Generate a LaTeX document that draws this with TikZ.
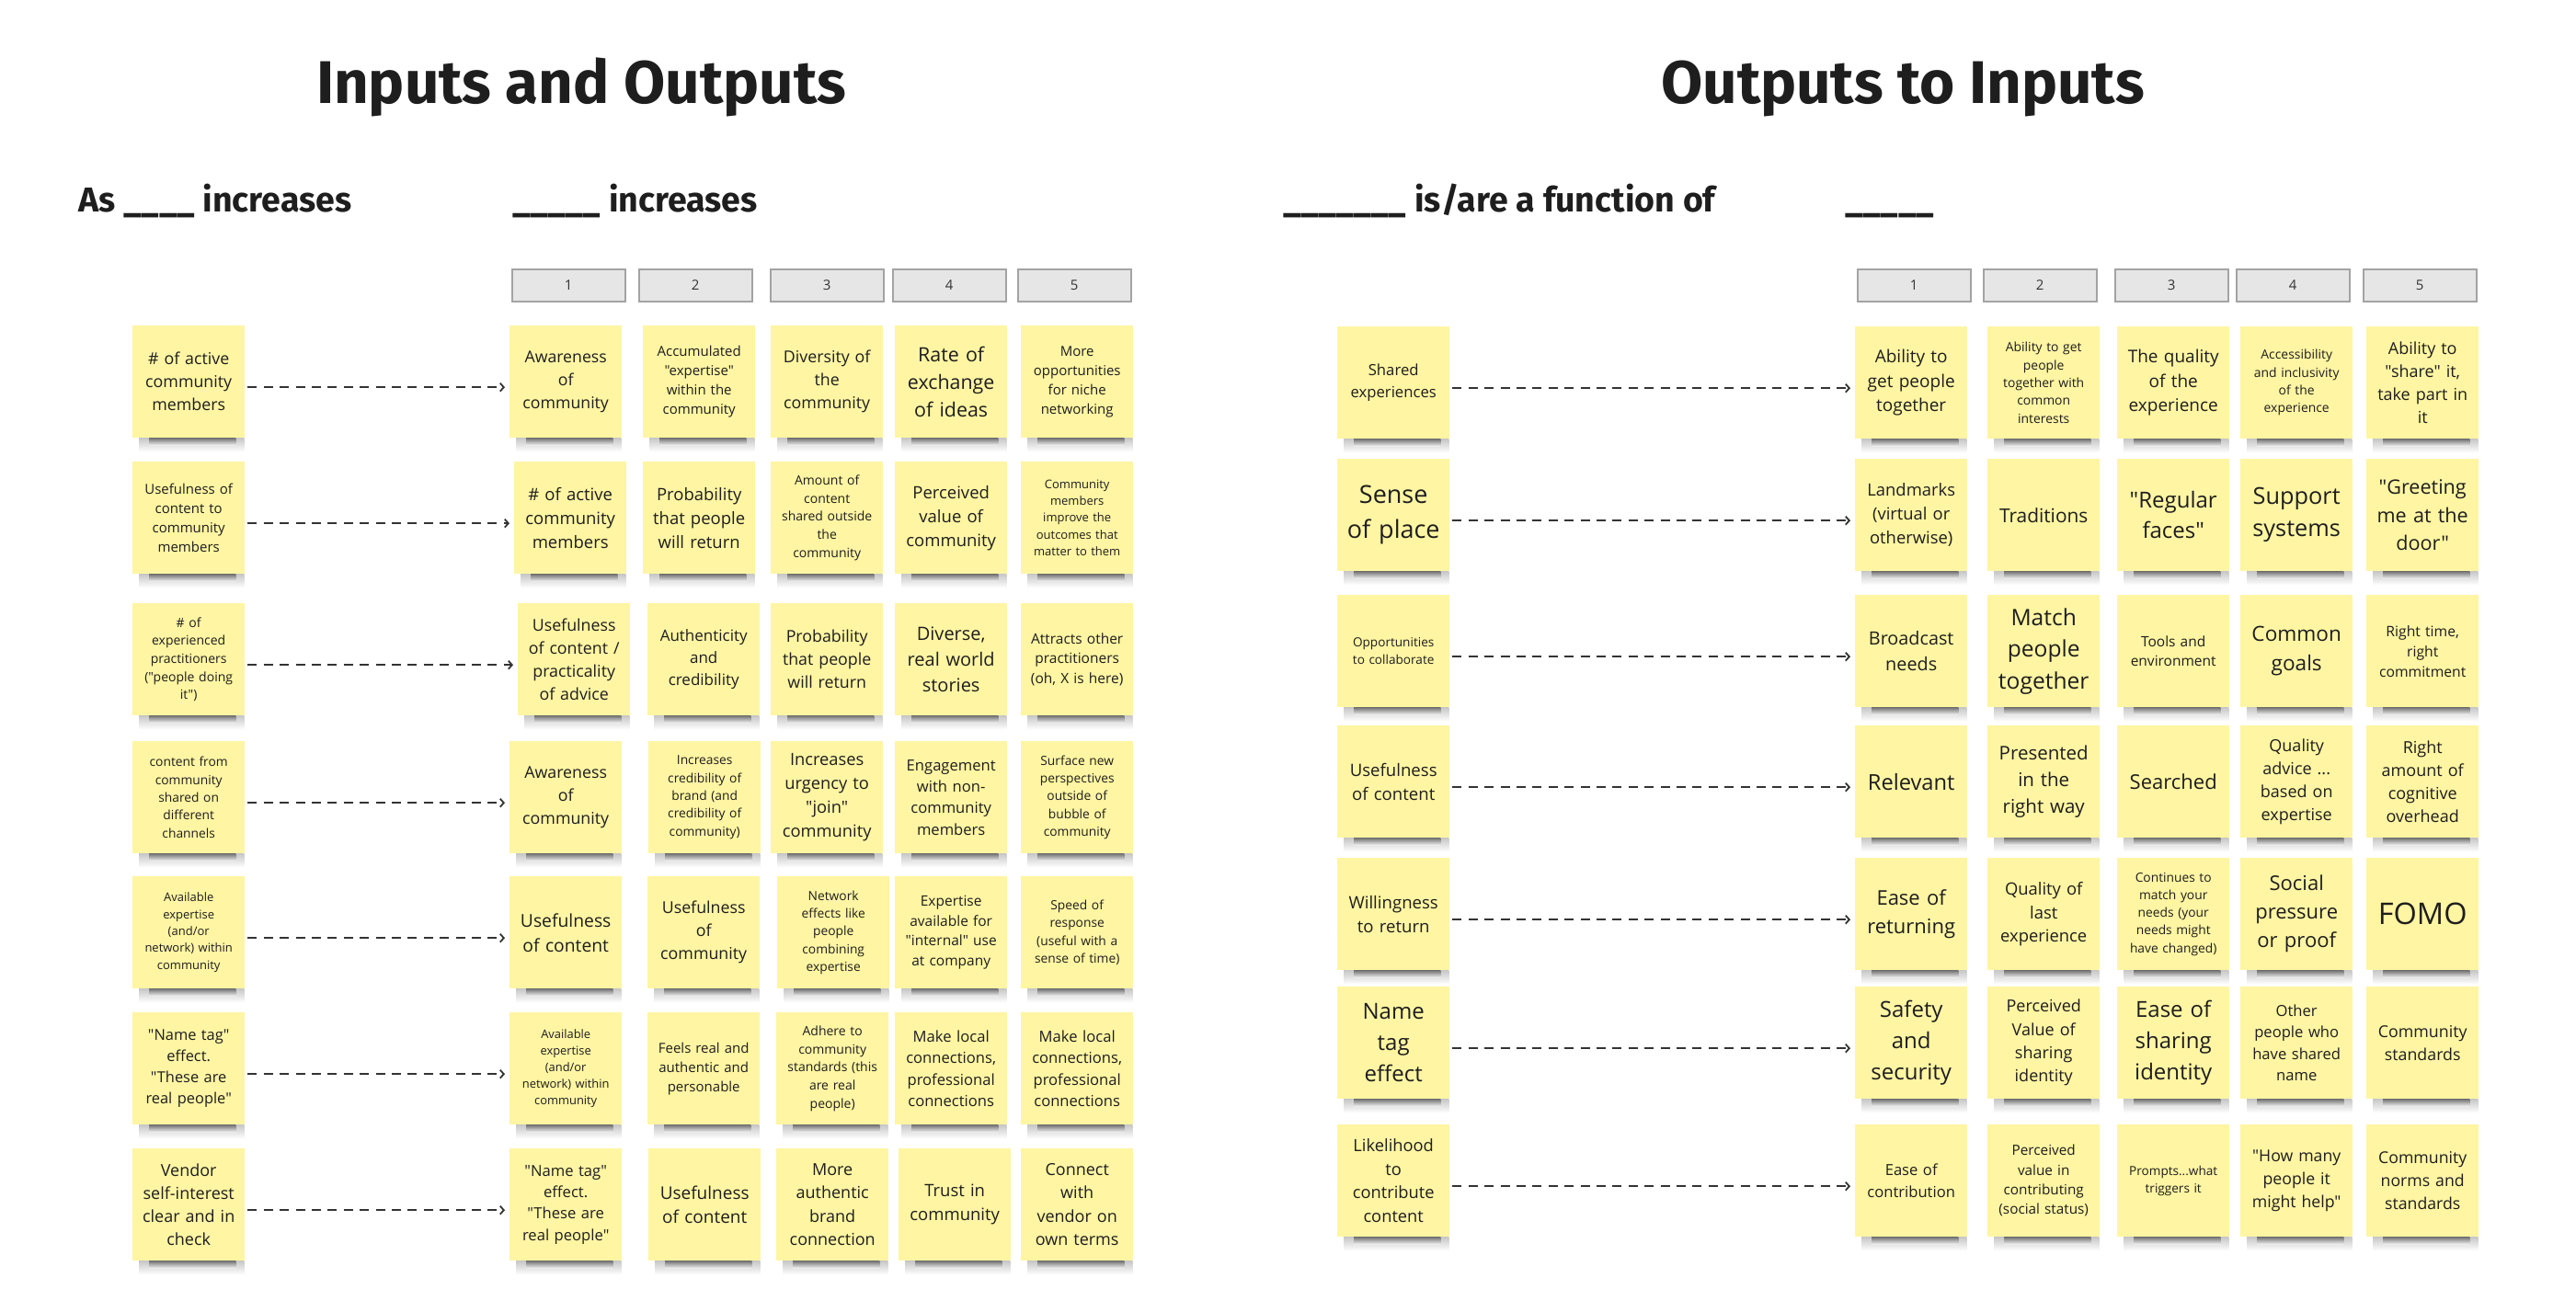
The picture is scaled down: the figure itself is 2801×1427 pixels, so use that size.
\documentclass[tikz,border=0pt]{standalone}
\usepackage{fontspec}
\setmainfont{Open Sans}
\newfontfamily\notefont{Open Sans}
\newfontfamily\titlefont{Fira Sans}
\usetikzlibrary{arrows.meta}
\definecolor{sticky}{HTML}{FFF5A3}
\definecolor{ink}{HTML}{1E1E1E}
\definecolor{hdrfill}{HTML}{E6E6E6}
\definecolor{hdrline}{HTML}{A3A3A3}
\definecolor{arrowc}{HTML}{333333}
\newcommand\nfs[2]{\fontsize{#1}{#2}\selectfont}
\newcommand\stk[6]{\node[note,font=\notefont\nfs{#4}{#5}] (#1) at (#2,#3) {#6};}
\begin{document}
\begin{tikzpicture}[x=1pt,y=-1pt,
  note/.style={anchor=north west, fill=sticky, minimum width=122pt, minimum height=122pt,
    text width=118pt, align=center, inner sep=0pt, text=ink},
  hdr/.style={anchor=north west, fill=hdrfill, draw=hdrline, line width=1.5pt,
    minimum width=123pt, minimum height=35pt, inner sep=0pt, text=arrowc, font=\notefont\nfs{15}{18}},
  flow/.style={draw=arrowc, line width=2.2pt, dash pattern=on 10pt off 7.4pt,
    -{Straight Barb[length=4pt,width=9pt,line width=1.8pt]}, shorten <=3pt, shorten >=5pt},
  ttl/.style={anchor=base, inner sep=0pt, text=ink, font=\titlefont\bfseries\nfs{65.5}{72}},
  sub/.style={anchor=base west, inner sep=0pt, text=ink, font=\titlefont\bfseries\nfs{37.5}{42}}]
\useasboundingbox (0,0) rectangle (2801,1427);
\fill[white] (0,0) rectangle (2801,1427);

% titles
\node[ttl] (T1) at (632,112) {Inputs and Outputs};
\node[ttl] (T2) at (2069,112) {Outputs to Inputs};
\node[sub] (S1) at (85.5,230) {As \_\_\_\_ increases};
\node[sub] (S2) at (557,230) {\_\_\_\_\_ increases};
\node[sub] (S3) at (1395,230) {\_\_\_\_\_\_\_ is/are a function of};
\node[sub] (S4) at (2006.5,230) {\_\_\_\_\_};

% header boxes
\node[hdr] (LH1) at (556,292) {1};
\node[hdr] (LH2) at (694,292) {2};
\node[hdr] (LH3) at (837,292) {3};
\node[hdr] (LH4) at (970,292) {4};
\node[hdr] (LH5) at (1106,292) {5};
\node[hdr] (RH1) at (2019,292) {1};
\node[hdr] (RH2) at (2156,292) {2};
\node[hdr] (RH3) at (2299,292) {3};
\node[hdr] (RH4) at (2431,292) {4};
\node[hdr] (RH5) at (2569,292) {5};

% ---------------- left block ----------------
% row 1
\stk{L1in}{144}{354}{17.8}{25}{\# of active\\community\\members}
\stk{L1a}{554}{354}{17.7}{24.7}{Awareness\\of\\community}
\stk{L1b}{699}{354}{15}{21}{Accumulated\\"expertise"\\within the\\community}
\stk{L1c}{838}{354}{17.8}{25}{Diversity of\\the\\community}
\stk{L1d}{973}{354}{21.4}{30}{Rate of\\exchange\\of ideas}
\stk{L1e}{1110}{354}{15}{21}{More\\opportunities\\for niche\\networking}
% row 2
\stk{L2in}{144}{502}{15}{21}{Usefulness of\\content to\\community\\members}
\stk{L2a}{559}{502}{18.5}{26}{\# of active\\community\\members}
\stk{L2b}{699}{502}{18.5}{26}{Probability\\that people\\will return}
\stk{L2c}{838}{502}{14}{19.6}{Amount of\\content\\shared outside\\the\\community}
\stk{L2d}{973}{502}{18.5}{26}{Perceived\\value of\\community}
\stk{L2e}{1110}{502}{13}{18.3}{Community\\members\\improve the\\outcomes that\\matter to them}
% row 3
\stk{L3in}{144}{656}{14}{19.7}{\# of\\experienced\\practitioners\\("people doing\\it")}
\stk{L3a}{563}{656}{17.8}{25}{Usefulness\\of content /\\practicality\\of advice}
\stk{L3b}{704}{656}{17}{23.7}{Authenticity\\and\\credibility}
\stk{L3c}{838}{656}{17.8}{25}{Probability\\that people\\will return}
\stk{L3d}{973}{656}{20}{28}{Diverse,\\real world\\stories}
\stk{L3e}{1110}{656}{15.5}{21.7}{Attracts other\\practitioners\\(oh, X is here)}
% row 4
\stk{L4in}{144}{806}{13.8}{19.3}{content from\\community\\shared on\\different\\channels}
\stk{L4a}{554}{806}{17.8}{25}{Awareness\\of\\community}
\stk{L4b}{705}{806}{13.8}{19.3}{Increases\\credibility of\\brand (and\\credibility of\\community)}
\stk{L4c}{838}{806}{18.3}{25.7}{Increases\\urgency to\\"join"\\community}
\stk{L4d}{973}{806}{16.6}{23.3}{Engagement\\with non-\\community\\members}
\stk{L4e}{1110}{806}{13.8}{19.3}{Surface new\\perspectives\\outside of\\bubble of\\community}
% row 5
\stk{L5in}{144}{953}{13}{18.3}{Available\\expertise\\(and/or\\network) within\\community}
\stk{L5a}{554}{953}{19.3}{27}{Usefulness\\of content}
\stk{L5b}{704}{953}{17.8}{25}{Usefulness\\of\\community}
\stk{L5c}{845}{953}{13.8}{19.3}{Network\\effects like\\people\\combining\\expertise}
\stk{L5d}{973}{953}{15.5}{21.7}{Expertise\\available for\\"internal" use\\at company}
\stk{L5e}{1110}{953}{13.8}{19.3}{Speed of\\response\\(useful with a\\sense of time)}
% row 6
\stk{L6in}{144}{1101}{16.4}{23}{"Name tag"\\effect.\\"These are\\real people"}
\stk{L6a}{554}{1101}{12.9}{18}{Available\\expertise\\(and/or\\network) within\\community}
\stk{L6b}{704}{1101}{15}{21}{Feels real and\\authentic and\\personable}
\stk{L6c}{844}{1101}{14}{19.6}{Adhere to\\community\\standards (this\\are real\\people)}
\stk{L6d}{973}{1101}{16.6}{23.3}{Make local\\connections,\\professional\\connections}
\stk{L6e}{1110}{1101}{16.6}{23.3}{Make local\\connections,\\professional\\connections}
% row 7
\stk{L7in}{144}{1249}{18}{25.3}{Vendor\\self-interest\\clear and in\\check}
\stk{L7a}{554}{1249}{16.6}{23.3}{"Name tag"\\effect.\\"These are\\real people"}
\stk{L7b}{705}{1249}{19}{26.7}{Usefulness\\of content}
\stk{L7c}{844}{1249}{18}{25.3}{More\\authentic\\brand\\connection}
\stk{L7d}{977}{1249}{18.5}{26}{Trust in\\community}
\stk{L7e}{1110}{1249}{18}{25.3}{Connect\\with\\vendor on\\own terms}

% ---------------- right block ----------------
% row 1
\stk{R1in}{1454}{355}{16.7}{23.3}{Shared\\experiences}
\stk{R1a}{2017}{355}{19}{26.5}{Ability to\\get people\\together}
\stk{R1b}{2161}{355}{13.9}{19.4}{Ability to get\\people\\together with\\common\\interests}
\stk{R1c}{2302}{355}{19}{26.5}{The quality\\of the\\experience}
\stk{R1d}{2436}{355}{13.9}{19.4}{Accessibility\\and inclusivity\\of the\\experience}
\stk{R1e}{2573}{355}{18}{25.2}{Ability to\\"share" it,\\take part in\\it}
% row 2
\stk{R2in}{1454}{499}{27}{38}{Sense\\of place}
\stk{R2a}{2017}{499}{18.4}{25.8}{Landmarks\\(virtual or\\otherwise)}
\stk{R2b}{2161}{499}{20.9}{28}{Traditions}
\stk{R2c}{2302}{499}{24}{33}{"Regular\\faces"}
\stk{R2d}{2436}{499}{25.3}{35}{Support\\systems}
\stk{R2e}{2573}{499}{21.6}{30.3}{"Greeting\\me at the\\door"}
% row 3
\stk{R3in}{1454}{647}{13.6}{19}{Opportunities\\to collaborate}
\stk{R3a}{2017}{647}{19.8}{27.7}{Broadcast\\needs}
\stk{R3b}{2161}{647}{24.6}{34.5}{Match\\people\\together}
\stk{R3c}{2302}{647}{15.5}{21.7}{Tools and\\environment}
\stk{R3d}{2436}{647}{22.6}{31.7}{Common\\goals}
\stk{R3e}{2573}{647}{15.7}{22}{Right time,\\right\\commitment}
% row 4
\stk{R4in}{1454}{789}{18.6}{26}{Usefulness\\of content}
\stk{R4a}{2017}{789}{23.7}{30}{Relevant}
\stk{R4b}{2161}{789}{20.5}{28.7}{Presented\\in the\\right way}
\stk{R4c}{2302}{789}{22}{30}{Searched}
\stk{R4d}{2436}{789}{18}{25.2}{Quality\\advice ...\\based on\\expertise}
\stk{R4e}{2573}{789}{18}{25.2}{Right\\amount of\\cognitive\\overhead}
% row 5
\stk{R5in}{1454}{933}{18.6}{26}{Willingness\\to return}
\stk{R5a}{2017}{933}{22}{30.7}{Ease of\\returning}
\stk{R5b}{2161}{933}{18.4}{25.8}{Quality of\\last\\experience}
\stk{R5c}{2302}{933}{13.8}{19.3}{Continues to\\match your\\needs (your\\needs might\\have changed)}
\stk{R5d}{2436}{933}{22}{31}{Social\\pressure\\or proof}
\stk{R5e}{2573}{933}{32.5}{40}{FOMO}
% row 6
\stk{R6in}{1454}{1073}{24}{33.7}{Name\\tag\\effect}
\stk{R6a}{2017}{1073}{24}{33.7}{Safety\\and\\security}
\stk{R6b}{2161}{1073}{18}{25.3}{Perceived\\Value of\\sharing\\identity}
\stk{R6c}{2302}{1073}{24}{33.7}{Ease of\\sharing\\identity}
\stk{R6d}{2436}{1073}{16.6}{23.3}{Other\\people who\\have shared\\name}
\stk{R6e}{2573}{1073}{17.8}{25}{Community\\standards}
% row 7
\stk{R7in}{1454}{1223}{18.3}{25.6}{Likelihood\\to\\contribute\\content}
\stk{R7a}{2017}{1223}{16.6}{23.3}{Ease of\\contribution}
\stk{R7b}{2161}{1223}{15.3}{21.4}{Perceived\\value in\\contributing\\(social status)}
\stk{R7c}{2302}{1223}{13.6}{19}{Prompts...what\\triggers it}
\stk{R7d}{2436}{1223}{17.7}{24.8}{"How many\\people it\\might help"}
\stk{R7e}{2573}{1223}{17.7}{24.8}{Community\\norms and\\standards}

% shadows (soft outer band + darker inner band)
\foreach \r in {1,...,7}{
  \foreach \s in {L,R}{
    \foreach \c in {in,a,b,c,d,e}{
      \shade[top color=black!22, bottom color=white]
        ([xshift=7pt]\s\r\c.south west) rectangle ([xshift=-1pt,yshift=-15pt]\s\r\c.south east);
      \shade[top color=black!55, bottom color=black!5]
        ([xshift=18pt]\s\r\c.south west) rectangle ([xshift=-10pt,yshift=-8pt]\s\r\c.south east);
    }
  }
}

% connectors
\foreach \r in {1,...,7}{
  \draw[flow] ([yshift=-6pt]L\r in.east) -- ([yshift=-6pt]L\r a.west);
  \draw[flow] ([yshift=-6pt]R\r in.east) -- ([yshift=-6pt]R\r a.west);
}
\end{tikzpicture}
\end{document}
